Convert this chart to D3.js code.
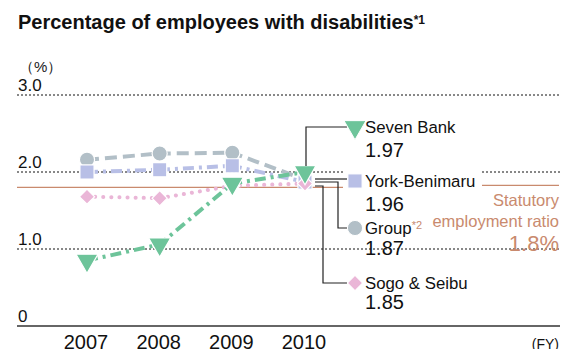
<!DOCTYPE html>
<html><head><meta charset="utf-8">
<script src="https://cdn.jsdelivr.net/npm/d3@7"></script>
<style>
body{margin:0;background:#fff;}
svg{font-family:"Liberation Sans",Arial,sans-serif;}
</style></head>
<body><svg id="c" width="563" height="349"></svg>
<script>
const years = [2007, 2008, 2009, 2010];
const groupVals = [2.16, 2.24, 2.25, 1.90];
const yorkVals = [2.00, 2.03, 2.08, 1.87];
const sogoVals = [1.68, 1.66, 1.82, 1.85];
const bankVals = [0.85, 1.06, 1.85, 2.00];
const yTicks = [0, 1.0, 2.0, 3.0];
const yTickLabels = ["0", "1.0", "2.0", "3.0"];
const statutory = 1.8;
const legendNames = ["Seven Bank", "York-Benimaru", "Group", "Sogo & Seibu"];
const legendValues = ["1.97", "1.96", "1.87", "1.85"];

const svg = d3.select("#c");
const x = d3.scaleLinear().domain([2007, 2010]).range([87, 305]);
const y = d3.scaleLinear().domain([0, 3]).range([326, 95]);
const L = 17, R = 560;

// title
const t = svg.append("text").attr("x", 18).attr("y", 29).attr("font-size", 20).attr("font-weight", "bold").attr("fill", "#111");
t.append("tspan").text("Percentage of employees with disabilities");
t.append("tspan").text("*1").attr("font-size", 12).attr("dy", -5);

svg.append("text").attr("x", 19).attr("y", 72).attr("font-size", 15).attr("fill", "#222").text("（%）");

// gridlines
yTicks.forEach((v, i) => {
  if (v === 0) return;
  const segs = v === 2.0 ? [[L, 343], [482, R]] : [[L, R]];
  segs.forEach(sg => {
    svg.append("line").attr("x1", sg[0]).attr("x2", sg[1]).attr("y1", y(v)).attr("y2", y(v))
      .attr("stroke", "#111").attr("stroke-width", 1).attr("stroke-dasharray", "2,2");
  });
});
yTicks.forEach((v, i) => {
  svg.append("text").attr("x", 18).attr("y", y(v) - 4).attr("font-size", 17).attr("fill", "#111").text(yTickLabels[i]);
});

// statutory line
const brown = "#c98a6e";
svg.append("line").attr("x1", L).attr("x2", 343).attr("y1", y(statutory)).attr("y2", y(statutory)).attr("stroke", brown).attr("stroke-width", 1.2);
svg.append("line").attr("x1", 482).attr("x2", 559).attr("y1", y(statutory) - 2).attr("y2", y(statutory) - 2).attr("stroke", brown).attr("stroke-width", 1.2);
svg.append("text").attr("x", 559).attr("y", 206).attr("text-anchor", "end").attr("font-size", 16.5).attr("fill", brown).text("Statutory");
svg.append("text").attr("x", 559).attr("y", 227).attr("text-anchor", "end").attr("font-size", 16.5).attr("fill", brown).text("employment ratio");
svg.append("text").attr("x", 559).attr("y", 251).attr("text-anchor", "end").attr("font-size", 22).attr("fill", brown).text(statutory.toFixed(1) + "%");

// baseline
svg.append("line").attr("x1", L).attr("x2", R).attr("y1", y(0)).attr("y2", y(0)).attr("stroke", "#666").attr("stroke-width", 2);

// x labels
years.forEach(yr => {
  svg.append("text").attr("x", x(yr) - 1).attr("y", 349).attr("text-anchor", "middle").attr("font-size", 20).attr("fill", "#111").text(yr);
});
svg.append("text").attr("x", 559).attr("y", 349).attr("text-anchor", "end").attr("font-size", 14).attr("fill", "#111").text("(FY)");

// series
const cGroup = "#b2bfc7", cYork = "#b8bfe6", cSogo = "#eab6d7", cBank = "#6dc49a";
const series = [
  {vals: groupVals, color: cGroup, dash: "12,6", sym: d3.symbolCircle, size: 180, rot: 0, cap: "butt"},
  {vals: yorkVals, color: cYork, dash: "11,5,3,5", sym: d3.symbolSquare, size: 200, rot: 0, cap: "butt"},
  {vals: sogoVals, color: cSogo, dash: "0.1,8", sym: d3.symbolSquare, size: 115, rot: 45, cap: "round"},
  {vals: bankVals, color: cBank, dash: "11,5,3,5", sym: d3.symbolTriangle, size: 210, rot: 180, cap: "butt"}
];
const line = d3.line().x((d, i) => x(years[i])).y(d => y(d));
series.forEach(s => {
  svg.append("path").attr("d", line(s.vals)).attr("fill", "none").attr("stroke", s.color).attr("stroke-width", 4)
    .attr("stroke-dasharray", s.dash).attr("stroke-linecap", s.cap);
});
series.forEach(s => {
  s.vals.forEach((v, i) => {
    svg.append("path").attr("d", d3.symbol().type(s.sym).size(s.size)())
      .attr("transform", `translate(${x(years[i])},${y(v)}) rotate(${s.rot})`)
      .attr("fill", s.color).attr("stroke", "#fff").attr("stroke-width", 1.2);
  });
});

// legend / annotations
const lx = 355, tx = 365;
const legY = [127, 181, 228, 283];
const valY = [157, 211, 255, 309];
const syms = [series[3], series[1], series[0], series[2]];
const x10 = x(2010);
const conn = svg.append("g").attr("fill", "none").attr("stroke", "#222").attr("stroke-width", 1.2);
conn.append("path").attr("d", `M${x10 + 1},${y(bankVals[3]) - 6}V${legY[0]}H${lx - 8}`);
conn.append("path").attr("d", `M${x10 + 10},${legY[1] - 2}H${lx - 8}`);
conn.append("path").attr("d", `M${x10 + 10},${legY[1] + 1}H${338}V${legY[2]}H${lx - 8}`);
conn.append("path").attr("d", `M${x10 + 10},${legY[1] + 5}H${323}V${legY[3]}H${lx - 8}`);

legendNames.forEach((n, i) => {
  const s = syms[i];
  svg.append("path").attr("d", d3.symbol().type(s.sym).size(s.size)())
    .attr("transform", `translate(${lx},${legY[i]}) rotate(${s.rot})`).attr("fill", s.color).attr("stroke", "#fff").attr("stroke-width", 1);
  const tt = svg.append("text").attr("x", tx).attr("y", legY[i] + 6).attr("font-size", 16.8).attr("fill", "#111");
  tt.append("tspan").text(n);
  if (n === "Group") tt.append("tspan").text("*2").attr("font-size", 11).attr("dy", -5).attr("fill", brown);
  svg.append("text").attr("x", tx).attr("y", valY[i]).attr("font-size", 20).attr("fill", "#111").text(legendValues[i]);
});
</script></body></html>
